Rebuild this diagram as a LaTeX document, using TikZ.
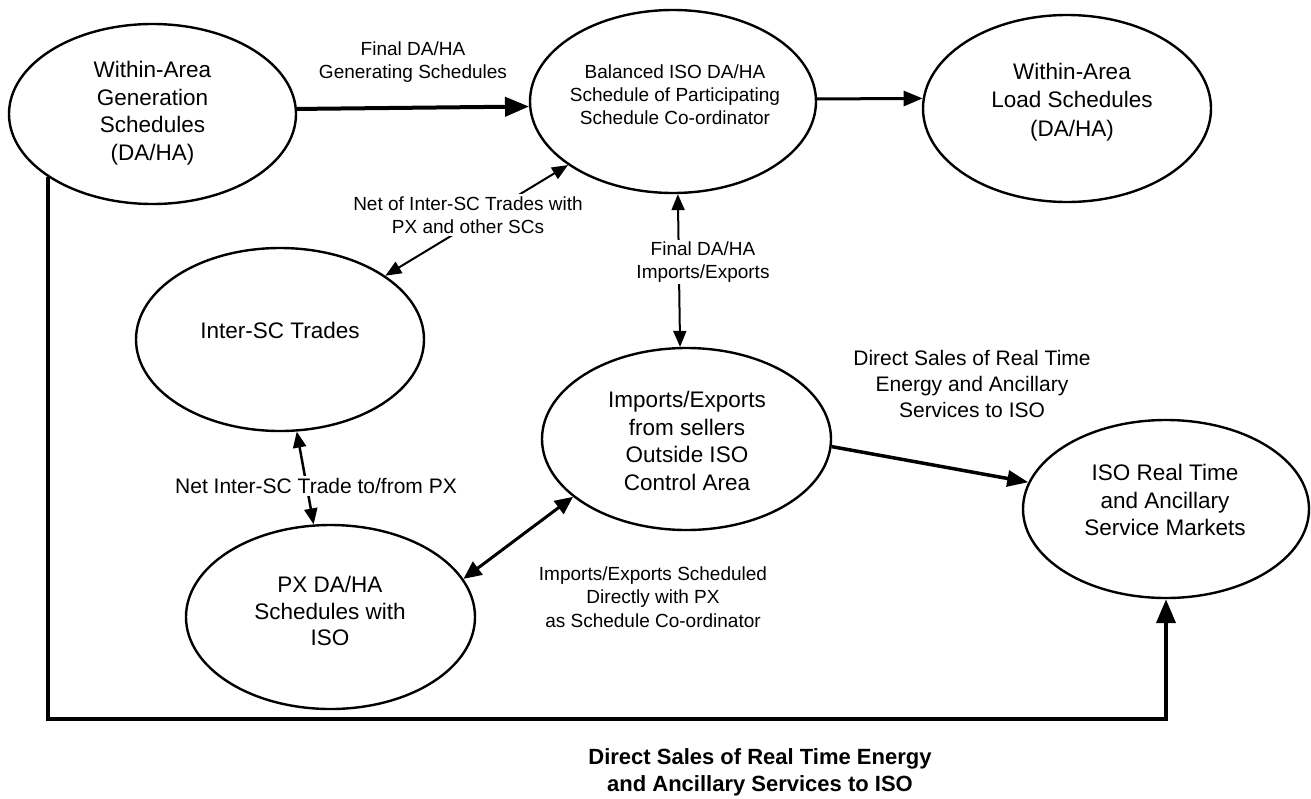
\documentclass[tikz,border=0pt]{standalone}
\usepackage{fontspec}
\setmainfont{Liberation Sans}
\usetikzlibrary{arrows.meta,shapes.geometric}
\begin{document}
\begin{tikzpicture}[x=1pt,y=-1pt,
  ell/.style={draw=black, line width=2.4pt, ellipse, inner sep=0pt},
  etext/.style={align=center, inner sep=0pt, font=\fontsize{22.5}{27.5}\selectfont},
  btext/.style={align=center, inner sep=0pt, font=\fontsize{19}{23}\selectfont},
  lab/.style={align=center, inner sep=2pt, fill=white, font=\fontsize{19}{23.5}\selectfont},
  labbig/.style={align=center, inner sep=2pt, fill=white, font=\fontsize{21}{26}\selectfont},
  labbold/.style={align=center, inner sep=0pt, font=\bfseries\fontsize{22}{27}\selectfont},
  heavy/.style={line width=4pt, -{Triangle[length=24pt,width=19pt]}},
  medium/.style={line width=3pt, -{Triangle[length=19pt,width=15pt]}},
  thinboth/.style={line width=2pt, {Triangle[length=16pt,width=13pt]}-{Triangle[length=16pt,width=13pt]}},
  medboth/.style={line width=3pt, {Triangle[length=18pt,width=16pt]}-{Triangle[length=18pt,width=16pt]}}
]
\fill[white] (0,0) rectangle (1311,798);
\useasboundingbox (0,0) rectangle (1311,798);

% ellipses
\node[ell, minimum width=287pt, minimum height=180pt] (A) at (152.5,114) {};
\node[ell, minimum width=286pt, minimum height=183pt] (B) at (673,101.5) {};
\node[ell, minimum width=288pt, minimum height=187pt] (C) at (1067,108.5) {};
\node[ell, minimum width=288pt, minimum height=183pt] (D) at (280,339.5) {};
\node[ell, minimum width=289pt, minimum height=184pt] (E) at (330.5,617) {};
\node[ell, minimum width=289pt, minimum height=182pt] (F) at (686.5,439) {};
\node[ell, minimum width=286pt, minimum height=178pt] (G) at (1166,509) {};

% ellipse texts
\node[etext] (At) at (152.5,113) {Within-Area\\Generation\\Schedules\\(DA/HA)};
\node[btext] (Bt) at (675,95) {Balanced ISO DA/HA\\Schedule of Participating\\Schedule Co-ordinator};
\node[etext, font=\fontsize{22.5}{28.5}\selectfont] (Ct) at (1072,102) {Within-Area\\Load Schedules\\(DA/HA)};
\node[etext] (Dt) at (280,330) {Inter-SC Trades};
\node[etext, font=\fontsize{22.5}{26.5}\selectfont] (Et) at (330,611) {PX DA/HA\\Schedules with\\ISO};
\node[etext] (Ft) at (687,441) {Imports/Exports\\from sellers\\Outside ISO\\Control Area};
\node[etext] (Gt) at (1165,500) {ISO Real Time\\and Ancillary\\Service Markets};

% helper coordinate for the bottom line
\coordinate (bl) at (50,719);

% connectors
\draw[heavy] (A.2.2) -- (B.182.8);
\draw[medium] (B.1) -- (C.176.2);
\draw[thinboth] (D) -- (B);
\draw[thinboth] (B.273.8) -- (F.94.7);
\draw[thinboth, line width=2.5pt] (D) -- (E);
\draw[medboth] (E.16.5) -- (F.207.8);
\draw[line width=3.5pt, -{Triangle[length=21pt,width=16pt]}] (F.357.2) -- (G.169.6);
\draw[heavy, line join=miter] (A.211.6) |- (G.south |- bl) -- (G.south);

% labels
\node[lab, fill=none] (L1) at (413,62) {Final DA/HA\\Generating Schedules};
\node[lab] (L2) at (468,215) {Net of Inter-SC Trades with\\PX and other SCs};
\node[lab, font=\fontsize{19}{23}\selectfont] (L3) at (703,262) {Final DA/HA\\Imports/Exports};
\node[labbig] (L4) at (316,486) {Net Inter-SC Trade to/from PX};
\node[lab, fill=none] (L5) at (653,597) {Imports/Exports Scheduled\\Directly with PX\\as Schedule Co-ordinator};
\node[labbig, fill=none] (L6) at (972,384) {Direct Sales of Real Time\\Energy and Ancillary\\Services to ISO};
\node[labbold] (L7) at (760,772) {Direct Sales of Real Time Energy\\and Ancillary Services to ISO};
\end{tikzpicture}
\end{document}
